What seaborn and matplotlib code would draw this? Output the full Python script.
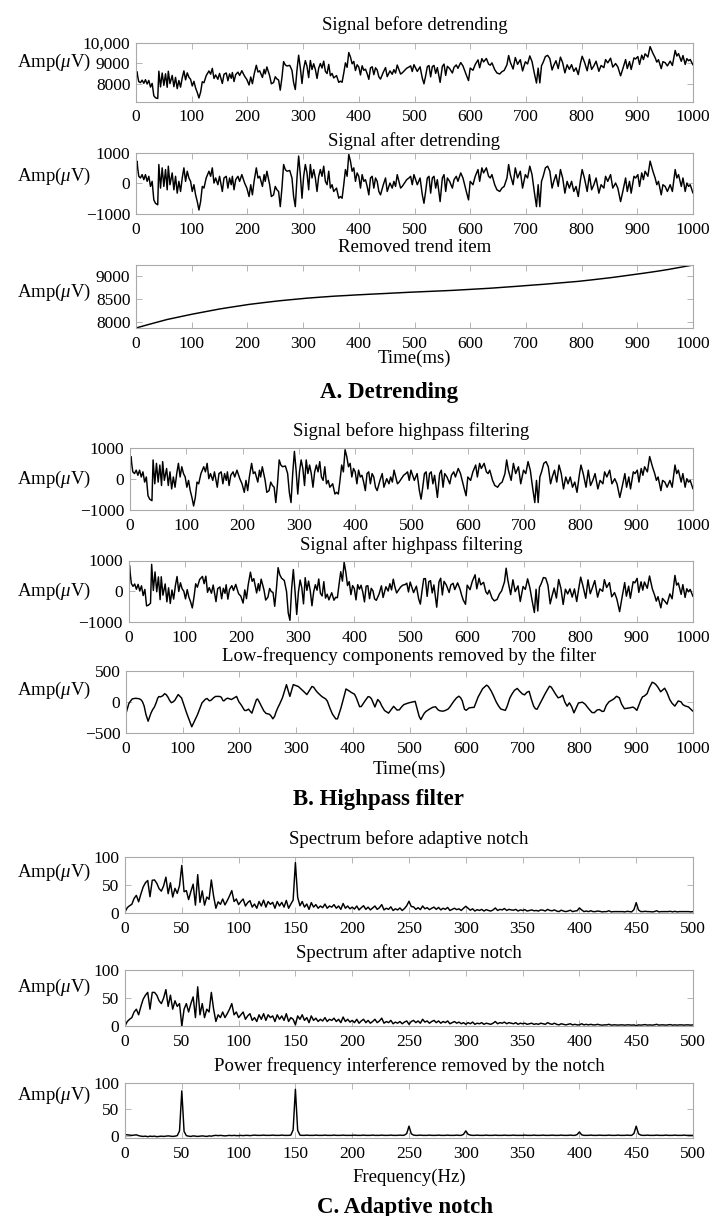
import numpy as np
import matplotlib
matplotlib.use("Agg")
import matplotlib.pyplot as plt
import seaborn as sns

# ---------------------------------------------------------------- data
# sample times (ms) shared by the time-domain traces
time_ms = [
    0, 2, 3, 5, 8, 11, 14, 17, 20, 23, 26, 29, 32, 35, 39, 41, 44, 47, 50, 53, 56, 58, 61, 65, 68, 71, 74, 77, 80, 83, 86, 89, 92, 95, 98,
    101, 104, 107, 110, 113, 116, 119, 122, 126, 131, 134, 137, 140, 143, 147, 150, 155, 158, 162, 165, 168, 171, 173, 176, 179, 183, 186, 190, 195, 199,
    203, 206, 209, 212, 216, 219, 222, 227, 230, 232, 235, 240, 243, 247, 250, 253, 256, 259, 262, 265, 268, 271, 276, 280, 283, 286, 289, 292, 295, 298,
    301, 304, 307, 310, 313, 316, 319, 322, 325, 328, 331, 334, 337, 340, 343, 346, 349, 352, 355, 360, 364, 367, 370, 373, 376, 379, 382, 385, 388, 391, 394, 397,
    400, 403, 406, 409, 412, 415, 418, 421, 424, 427, 430, 433, 436, 439, 444, 448, 451, 456, 460, 463, 466, 469, 472, 475, 478, 482, 486, 490, 493, 496, 499,
    505, 510, 514, 517, 520, 523, 526, 529, 532, 535, 538, 541, 546, 550, 553, 556, 559, 563, 568, 571, 575, 578, 583, 587, 590, 593, 597,
    600, 605, 609, 614, 617, 621, 624, 629, 633, 636, 639, 644, 648, 653, 657, 661, 666, 669, 672, 677, 681, 685, 690, 694, 699,
    703, 707, 711, 715, 719, 722, 725, 728, 731, 735, 739, 743, 747, 750, 754, 758, 762, 766, 770, 774, 778, 782, 786, 790, 794, 798,
    801, 805, 810, 814, 818, 822, 826, 831, 835, 840, 843, 847, 852, 856, 861, 865, 870, 874, 879, 882, 886, 889, 894, 897,
    901, 904, 908, 911, 914, 919, 923, 928, 932, 935, 938, 943, 946, 950, 954, 959, 963, 968, 971, 974, 979, 982, 986, 989, 992, 995, 1000,
]

# EEG after detrending (= input of the highpass stage), uV
detrended_uv = [
    650, 720, 500, 230, 175, 285, 120, 285, 65, 230, -100, 65, -540, -650, -700, 615, -155, 505, -100, 450, -210, 560, -45, 340, -210, 230, -320, 65, -265, 175, 505, 65, 395, 175, 65,
    -265, -45, -375, -595, -870, -595, -100, -155, 175, 395, 230, 505, 10, 175, -45, 230, -265, 175, 230, -155, 175, -45, 230, -210, 120, 230, 65, 285, 10, -155,
    -430, -45, -375, 65, 505, 175, 230, -100, 285, 65, 395, -45, -430, -375, -100, -210, -265, -760, -155, 615, 450, 395, 420, 175, -430, -760, 175, 890, 285, -485,
    230, 615, 340, -210, 615, 175, 450, 175, -265, 230, 450, 230, 560, 65, -45, 395, -155, -45, -265, -155, -485, -430, -485, -45, 450, 230, 945, 725, 395, 505, 65, 340,
    230, -155, 285, 65, 120, -100, -375, 175, 230, -155, 175, 65, -265, -375, -45, 175, -265, 10, -155, 65, -100, 285, 65, -155, -100, 10, 120, 175, 230, -45, 285,
    -45, 175, -375, -650, -265, 175, 230, -320, 175, 230, -155, 120, -595, 175, 285, -265, 175, 65, -155, 120, 230, 65, 340, 175, -45, -265, -540,
    65, -45, 230, 450, 65, 505, 340, 505, 230, 175, 285, -45, -210, -265, -155, -100, 175, 615, 285, -45, 505, 175, 395, -155, 285,
    175, 560, 285, -265, -760, -45, -760, 65, 230, 505, 560, 395, -155, 65, 285, -100, 450, 175, -320, 65, -155, 65, -265, -100, -430, 120,
    450, 175, -265, 285, -210, -45, 175, -320, -45, -155, 230, 65, 285, -155, 10, -155, -595, -265, 175, -265, 65, -320, 230, 175,
    285, -100, 340, 120, 395, 230, 725, 395, 175, -45, 65, -375, -45, -100, -265, -45, -265, 450, 175, 285, -100, 175, -265, 10, -100, -45, -320,
]

# removed polynomial trend, uV
trend_uv = [
    7870, 7877, 7880, 7887, 7897, 7907, 7918, 7928, 7938, 7948, 7958, 7969, 7979, 7989, 8003, 8009, 8020, 8030, 8040, 8048, 8056, 8061, 8069, 8079, 8087, 8095, 8102, 8110, 8118, 8126, 8134, 8141, 8149, 8157, 8165,
    8172, 8179, 8186, 8193, 8200, 8207, 8214, 8221, 8230, 8242, 8249, 8255, 8262, 8269, 8278, 8285, 8295, 8300, 8308, 8314, 8319, 8325, 8329, 8334, 8340, 8348, 8353, 8361, 8370, 8378,
    8385, 8389, 8394, 8398, 8404, 8409, 8413, 8421, 8425, 8428, 8433, 8440, 8445, 8451, 8455, 8459, 8462, 8466, 8469, 8473, 8477, 8480, 8486, 8491, 8495, 8498, 8502, 8505, 8509, 8513,
    8516, 8519, 8521, 8524, 8527, 8529, 8532, 8535, 8538, 8540, 8543, 8546, 8548, 8551, 8554, 8556, 8559, 8561, 8564, 8567, 8570, 8572, 8574, 8576, 8578, 8580, 8582, 8585, 8587, 8589, 8591, 8593,
    8595, 8597, 8599, 8600, 8602, 8604, 8606, 8608, 8609, 8611, 8613, 8615, 8617, 8618, 8621, 8624, 8626, 8629, 8631, 8633, 8635, 8637, 8638, 8640, 8642, 8644, 8647, 8649, 8651, 8653, 8654,
    8658, 8660, 8662, 8664, 8665, 8667, 8668, 8670, 8671, 8673, 8674, 8676, 8678, 8680, 8682, 8684, 8685, 8688, 8691, 8693, 8695, 8697, 8700, 8702, 8704, 8706, 8708,
    8710, 8714, 8717, 8721, 8724, 8727, 8729, 8733, 8736, 8739, 8741, 8745, 8748, 8753, 8756, 8760, 8764, 8767, 8770, 8774, 8778, 8781, 8786, 8790, 8794,
    8798, 8801, 8805, 8809, 8812, 8815, 8818, 8820, 8823, 8827, 8830, 8834, 8837, 8840, 8844, 8849, 8853, 8858, 8862, 8866, 8871, 8875, 8880, 8884, 8888, 8893,
    8896, 8902, 8909, 8915, 8920, 8926, 8931, 8938, 8944, 8951, 8955, 8961, 8968, 8975, 8983, 8989, 8997, 9003, 9011, 9016, 9022, 9027, 9035, 9040,
    9047, 9052, 9059, 9065, 9070, 9079, 9086, 9095, 9103, 9108, 9113, 9122, 9128, 9135, 9144, 9155, 9164, 9175, 9181, 9188, 9199, 9205, 9214, 9221, 9227, 9234, 9245,
]

# low-frequency part taken out by the highpass filter, uV
lowfreq_uv = [
    -185, -120, -90, -25, 15, 50, 55, 60, 57, 53, 40, 5, -65, -195, -310, -260, -180, -123, -83, -17, 63, 88, 83, 102, 134, 118, 78, 25, -11, 2, 26, 73, 120, 93, 65,
    -17, -98, -180, -253, -327, -400, -343, -287, -206, -87, -15, 15, 45, 56, 19, 28, 72, 90, 90, 90, 77, 23, 19, 47, 62, 49, 40, 62, 90, 5,
    -45, -90, -135, -138, -115, -148, -180, -44, 38, 49, 1, -88, -143, -184, -191, -198, -228, -271, -232, -152, -88, -33, 70, 190, 280, 185, 90, 185, 280, 270,
    260, 250, 225, 200, 173, 147, 120, 164, 207, 251, 238, 197, 161, 134, 108, 84, 68, 51, 16, -107, -193, -233, -273, -271, -185, -99, 0, 105, 210, 193, 176, 156,
    142, 126, 71, -2, -76, -72, -29, 11, 49, 87, 80, 50, -15, -80, 41, -2, -62, -137, -162, -180, -143, -107, -70, -100, -130, -127, -80, -42, -32, -22, -13,
    -1, 10, -128, -231, -283, -232, -182, -153, -134, -116, -100, -85, -77, -123, -140, -145, -148, -137, -114, -83, -28, 11, 67, 93, 70, 21, -116,
    -134, -96, -90, -86, -15, 80, 131, 215, 248, 272, 251, 179, 103, 0, -63, -113, -127, -135, -75, 65, 132, 187, 219, 177, 131,
    115, 157, 172, 42, -68, -108, -117, -64, -11, 60, 130, 195, 255, 240, 180, 122, 68, 79, 110, -1, -67, -13, -75, -175, -95, -15,
    -10, -3, -37, -86, -130, -170, -172, -128, -122, -153, -147, -55, 5, 25, 54, 92, 69, -33, -108, -104, -100, -93, -82, -98,
    -135, -63, 32, 84, 95, 134, 229, 319, 301, 276, 240, 165, 189, 222, 155, 40, -20, -66, -24, 17, 2, -41, -63, -72, -80, -106, -150,
]

# amplitude spectra on a 2 Hz grid, 0-500 Hz
freq_hz = np.arange(0, 501, 2)

notched_spectrum = [
    0, 8, 12, 15, 25, 30, 20, 35, 48, 55, 60, 30, 60, 60, 55, 45, 40, 50, 65, 35, 55, 30, 45, 35, 40,
    0, 30, 40, 25, 40, 52, 15, 70, 20, 40, 15, 30, 25, 60, 30, 8, 20, 15, 25, 15, 22, 30, 40, 20, 25,
    15, 20, 25, 12, 18, 22, 10, 15, 8, 20, 12, 22, 10, 20, 15, 18, 8, 20, 12, 18, 10, 22, 8, 15, 12,
    2, 18, 12, 20, 10, 15, 6, 18, 10, 14, 8, 12, 9, 15, 8, 12, 10, 14, 8, 12, 6, 16, 8, 12, 7,
    10, 6, 12, 5, 9, 12, 6, 10, 5, 8, 12, 6, 9, 14, 5, 8, 6, 10, 4, 7, 5, 8, 4, 7, 9,
    3, 8, 10, 6, 9, 5, 12, 7, 9, 5, 8, 10, 6, 9, 5, 8, 6, 9, 4, 6, 8, 5, 7, 4, 6,
    3, 6, 4, 7, 3, 5, 4, 6, 3, 5, 4, 3, 5, 8, 4, 6, 5, 7, 4, 6, 5, 4, 6, 3, 5,
    4, 5, 3, 4, 5, 3, 4, 3, 5, 4, 3, 6, 4, 3, 5, 3, 2, 4, 3, 2, 3, 4, 2, 3, 2,
    2, 4, 2, 3, 2, 3, 2, 2, 3, 2, 1.5, 2, 2, 3, 1.5, 2, 2, 1.5, 2, 2, 1.5, 2, 2, 1.5, 2,
    0.5, 2, 1.5, 2, 2.5, 1.5, 2, 1.5, 2, 3, 1.5, 2, 2, 1.5, 2, 2.5, 1.5, 2, 1.5, 2, 2, 1.5, 2, 2, 1.5, 2,
]

removed_spectrum = [
    2, 1.5, 1, 0.5, 1, 1.5, 0, -1, -1.5, -1, -2, -1, -1.5, -1, -2, -1.5, -1, -1.5, -1, -0.5, -1, -1.5, -1, 0, 9,
    85, 8, 0, -1, -1.5, -0.5, -1, -1.5, -1, -0.5, -1, -1.5, -0.5, -1, 0, 0.5, 0, 0.5, 0, -0.5, 0, 0.5, 0, 0.5, 0,
    0, 0.5, 0, 0.5, 0.5, 0, 0.5, 1, 0.5, 0.5, 0.5, 1, 0.5, 0.5, 0.5, 1, 0.5, 0.5, 0.5, 1, 0.5, 0.5, 0.5, 1, 11,
    88, 10, 1, 0.5, 0.5, 1, 0.5, 0.5, 0.5, 1, 0.5, 0.5, 0.5, 1, 0.5, 0.5, 0.5, 1, 0.5, 0.5, 0.5, 1, 0.5, 0.5, 0.5,
    0.5, 1, 0.5, 0.5, 0.5, 1, 0.5, 0.5, 0.5, 1, 0.5, 0.5, 0.5, 1, 0.5, 0.5, 0.5, 1, 0.5, 0.5, 0.5, 1, 0.5, 1, 4,
    18, 3.5, 1, 0.5, 0.5, 1, 0.5, 0.5, 0.5, 1, 0.5, 0.5, 0.5, 1, 0.5, 0.5, 0.5, 1, 0.5, 0.5, 0.5, 1, 0.5, 0.5, 2.5,
    9, 2.5, 1, 0.5, 0.5, 1, 0.5, 0.5, 0.5, 1, 0.5, 0.5, 0.5, 1, 0.5, 0.5, 0.5, 1, 0.5, 0.5, 0.5, 1, 0.5, 0.5, 0.5,
    0.5, 1, 0.5, 0.5, 0.5, 1, 0.5, 0.5, 0.5, 1, 0.5, 0.5, 0.5, 1, 0.5, 0.5, 0.5, 1, 0.5, 0.5, 0.5, 1, 0.5, 0.5, 2,
    7, 1.5, 0.5, 0.5, 0.5, 1, 0.5, 0.5, 0.5, 1, 0.5, 0.5, 0.5, 1, 0.5, 0.5, 0.5, 1, 0.5, 0.5, 0.5, 1, 0.5, 0.5, 4,
    18, 3.5, 1, 0.5, 0.5, 1, 0.5, 0.5, 0.5, 1, 0.5, 0.5, 0.5, 1, 0.5, 0.5, 0.5, 1, 0.5, 0.5, 0.5, 1, 0.5, 0.5, 0.5, 0.5,
]

for name, seq in [("detrended_uv", detrended_uv), ("trend_uv", trend_uv), ("lowfreq_uv", lowfreq_uv)]:
    if len(seq) != len(time_ms):
        raise ValueError(f"{name}: {len(seq)} values for {len(time_ms)} times")
for name, seq in [("notched_spectrum", notched_spectrum), ("removed_spectrum", removed_spectrum)]:
    if len(seq) != len(freq_hz):
        raise ValueError(f"{name}: {len(seq)} values for {len(freq_hz)} bins")

t = np.array(time_ms, dtype=float)
detrended = np.array(detrended_uv, dtype=float)
trend = np.array(trend_uv, dtype=float)
lowfreq = np.array(lowfreq_uv, dtype=float)
raw = detrended + trend              # signal before detrending
highpassed = detrended - lowfreq     # signal after highpass filtering
notched = np.array(notched_spectrum, dtype=float)
removed = np.array(removed_spectrum, dtype=float)
spectrum_before = notched + removed  # spectrum before the adaptive notch

# ---------------------------------------------------------------- style
sns.set_theme(style="white")
plt.rcParams.update({
    "font.family": ["Liberation Serif", "DejaVu Serif"],
    "mathtext.fontset": "custom",
    "mathtext.rm": "Liberation Serif",
    "mathtext.it": "Liberation Serif:italic",
    "axes.unicode_minus": True,
})

W, H = 710, 1216
fig = plt.figure(figsize=(W / 100, H / 100), dpi=100)
fig.patch.set_facecolor("white")

FRAME = "#a9a9a9"
MINUS = "\u2212"


def panel(left, top, bottom, right=693):
    return fig.add_axes([left / W, 1 - bottom / H, (right - left) / W, (bottom - top) / H])


def label(x, y, s, size=13.5, weight="normal", ha="center"):
    fig.text(x / W, 1 - y / H, s, ha=ha, va="center", fontsize=size, fontweight=weight, color="black")


def draw(ax, x, y, xlim, xticks, ylim, yticks, ylabels):
    sns.lineplot(x=x, y=y, ax=ax, color="black", linewidth=1.05, estimator=None, sort=False)
    ax.set_xlim(*xlim)
    ax.set_ylim(*ylim)
    ax.set_xticks(xticks)
    ax.set_xticklabels([str(v) for v in xticks])
    ax.set_yticks(yticks)
    ax.set_yticklabels(ylabels)
    ax.set_xlabel("")
    ax.set_ylabel("")
    for sp in ax.spines.values():
        sp.set_visible(True)
        sp.set_color(FRAME)
        sp.set_linewidth(0.8)
    ax.tick_params(direction="in", length=4, width=0.6, color=FRAME,
                   bottom=True, top=True, left=True, right=True,
                   labelsize=12.5, labelcolor="black")
    ax.tick_params(axis="x", pad=5.5)
    ax.tick_params(axis="y", pad=4)


T_TICKS = list(range(0, 1001, 100))
F_TICKS = list(range(0, 501, 50))
AMP = r"Amp($\mu$V)"

# ---------------------------------------------------------------- A. Detrending
ax1 = panel(136, 42.7, 101.7)
draw(ax1, t, raw, (0, 1000), T_TICKS, (7150, 10000), [8000, 9000, 10000], ["8000", "9000", "10,000"])
label(414.5, 25, "Signal before detrending")
label(17, 62, AMP, ha="left")

ax2 = panel(136, 152.7, 214)
draw(ax2, t, detrended, (0, 1000), T_TICKS, (-1000, 1000), [-1000, 0, 1000], [MINUS + "1000", "0", "1000"])
label(414.5, 141, "Signal after detrending")
label(17, 176, AMP, ha="left")

ax3 = panel(136, 265, 328)
draw(ax3, t, trend, (0, 1000), T_TICKS, (trend.min(), trend.max()), [8000, 8500, 9000], ["8000", "8500", "9000"])
label(414.5, 248, "Removed trend item")
label(17, 292.5, AMP, ha="left")
label(414.5, 358, "Time(ms)")
label(389, 392, "A. Detrending", size=16.5, weight="bold")

# ---------------------------------------------------------------- B. Highpass filter
ax4 = panel(130, 448, 510)
draw(ax4, t, detrended, (0, 1000), T_TICKS, (-1000, 1000), [-1000, 0, 1000], [MINUS + "1000", "0", "1000"])
label(411.5, 431.5, "Signal before highpass filtering")
label(17, 479, AMP, ha="left")

ax5 = panel(128.5, 560.5, 622)
draw(ax5, t, highpassed, (0, 1000), T_TICKS, (-1000, 1000), [-1000, 0, 1000], [MINUS + "1000", "0", "1000"])
label(411, 545, "Signal after highpass filtering")
label(17, 591, AMP, ha="left")

ax6 = panel(126, 671, 733)
draw(ax6, t, lowfreq, (0, 1000), T_TICKS, (-500, 500), [-500, 0, 500], [MINUS + "500", "0", "500"])
label(409.5, 656, "Low-frequency components removed by the filter")
label(17, 690, AMP, ha="left")
label(409.5, 769, "Time(ms)")
label(378, 800, "B. Highpass filter", size=16.5, weight="bold")

# ---------------------------------------------------------------- C. Adaptive notch
ax7 = panel(125, 857, 913)
draw(ax7, freq_hz, spectrum_before, (0, 500), F_TICKS, (0, 100), [0, 50, 100], ["0", "50", "100"])
label(409, 839, "Spectrum before adaptive notch")
label(17, 872, AMP, ha="left")

ax8 = panel(125, 970, 1026)
draw(ax8, freq_hz, notched, (0, 500), F_TICKS, (0, 100), [0, 50, 100], ["0", "50", "100"])
label(409, 953, "Spectrum after adaptive notch")
label(17, 987, AMP, ha="left")

ax9 = panel(125, 1083, 1138)
draw(ax9, freq_hz, removed, (0, 500), F_TICKS, (-4.5, 100), [0, 50, 100], ["0", "50", "100"])
label(409, 1066, "Power frequency interference removed by the notch")
label(17, 1095, AMP, ha="left")
label(409, 1177, "Frequency(Hz)")
label(405, 1207, "C. Adaptive notch", size=16.5, weight="bold")

fig.savefig("out.png", dpi=100, facecolor="white")
